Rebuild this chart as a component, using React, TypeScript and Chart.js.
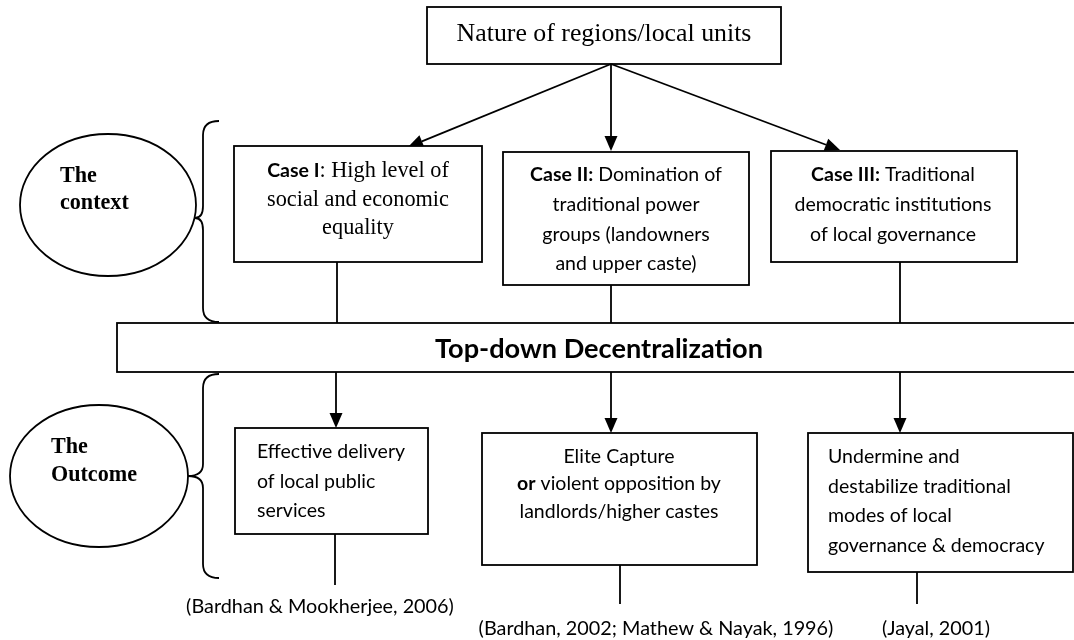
import React, { useEffect, useRef } from "react";
import { Chart, registerables } from "chart.js";
Chart.register(...registerables);

type Seg = { t: string; b?: boolean; f?: "serif" | "sans" };
type Line = Seg[];

// ---------- content (data) ----------
const sourceLabel = "Nature of regions/local units";
const contextLabel = ["The", "context"];
const outcomeLabel = ["The", "Outcome"];
const barLabel = "Top-down Decentralization";

const caseTexts: Line[][] = [
  [
    [{ t: "Case I", b: true, f: "sans" }, { t: ": High level of", f: "serif" }],
    [{ t: "social and economic", f: "serif" }],
    [{ t: "equality", f: "serif" }],
  ],
  [
    [{ t: "Case II:", b: true }, { t: " Domination of" }],
    [{ t: "traditional power" }],
    [{ t: "groups (landowners" }],
    [{ t: "and upper caste)" }],
  ],
  [
    [{ t: "Case III:", b: true }, { t: " Traditional" }],
    [{ t: "democratic institutions" }],
    [{ t: "of local governance" }],
  ],
];

const outcomeTexts: Line[][] = [
  [[{ t: "Effective delivery" }], [{ t: "of local public" }], [{ t: "services" }]],
  [
    [{ t: "Elite Capture" }],
    [{ t: "or", b: true }, { t: " violent opposition by" }],
    [{ t: "landlords/higher castes" }],
  ],
  [
    [{ t: "Undermine and" }],
    [{ t: "destabilize traditional" }],
    [{ t: "modes of local" }],
    [{ t: "governance & democracy" }],
  ],
];

const citations = [
  "(Bardhan & Mookherjee, 2006)",
  "(Bardhan, 2002; Mathew & Nayak, 1996)",
  "(Jayal, 2001)",
];

// ---------- layout (positions in a 1074 x 640 value space) ----------
const W = 1074;
const H = 640;
const topBox = { x0: 427, x1: 781, y0: 7, y1: 64, cy: 34 };
const arrowOrigin = { x: 611, y: 64 };
const caseArrowTips = [
  { x: 408, y: 147 },
  { x: 611, y: 151 },
  { x: 840, y: 150 },
];
const caseBoxes = [
  { x0: 234, x1: 482, y0: 146, y1: 262, align: "center", tx: 358, ys: [171, 200, 228], conn: 337 },
  { x0: 503, x1: 749, y0: 152, y1: 285, align: "center", tx: 626, ys: [175, 205, 235, 264], conn: 611 },
  { x0: 771, x1: 1017, y0: 151, y1: 262, align: "center", tx: 893, ys: [175, 205, 235], conn: 900 },
];
const bar = { x0: 117, x1: 1080, y0: 323, y1: 372, tx: 599, ty: 349 };
const outcomeBoxes = [
  { x0: 235, x1: 428, y0: 428, y1: 534, align: "left", tx: 257, ys: [452, 482, 511], arrowX: 336, connX: 335, connY: 585 },
  { x0: 482, x1: 757, y0: 433, y1: 565, align: "center", tx: 619, ys: [457, 484, 512], arrowX: 611, connX: 620, connY: 604 },
  { x0: 808, x1: 1073, y0: 433, y1: 572, align: "left", tx: 828, ys: [457, 487, 516, 546], arrowX: 900, connX: 917, connY: 604 },
];
const citationPos = [
  { x: 320, y: 607 },
  { x: 656, y: 629 },
  { x: 936, y: 629 },
];
const ellipses = [
  { cx: 108, cy: 205, rx: 88, ry: 71, tx: 60, ys: [176, 203] },
  { cx: 99, cy: 476, rx: 89, ry: 71, tx: 51, ys: [447, 475] },
];
const braces = [
  { end: 219, vx: 203, tip: 195, top: 121, mid: 218, bottom: 322 },
  { end: 219, vx: 203, tip: 188, top: 374, mid: 476, bottom: 578 },
];

const SERIF = "'Liberation Serif', 'DejaVu Serif', serif";
const SANS = "Lato, 'Noto Sans', sans-serif";

function fit(ctx: CanvasRenderingContext2D, weight: string, fam: string, text: string, target: number) {
  ctx.font = `${weight} 20px ${fam}`;
  const w = ctx.measureText(text).width;
  return (20 * target) / w;
}

const diagramPlugin = {
  id: "diagram",
  beforeDraw(chart: any) {
    const c = chart.ctx as CanvasRenderingContext2D;
    c.save();
    c.fillStyle = "#fff";
    c.fillRect(0, 0, chart.width, chart.height);
    c.restore();
  },
  afterDraw(chart: any) {
    const ctx = chart.ctx as CanvasRenderingContext2D;
    const X = (v: number) => chart.scales.x.getPixelForValue(v);
    const Y = (v: number) => chart.scales.y.getPixelForValue(v);

    const fsTop = fit(ctx, "normal", SERIF, sourceLabel, 295);
    const fsCaseSerif = fit(ctx, "normal", SERIF, "social and economic", 182);
    const fsSans = fit(ctx, "normal", SANS, "democratic institutions", 197);
    const fsBar = fit(ctx, "bold", SANS, barLabel, 328);
    const fsEll = fit(ctx, "bold", SERIF, "Outcome", 86);
    const fsCite = fit(ctx, "normal", SANS, citations[0], 268);

    ctx.save();
    ctx.strokeStyle = "#000";
    ctx.fillStyle = "#000";
    ctx.lineWidth = 1.8;
    ctx.lineJoin = "miter";

    const rect = (b: { x0: number; x1: number; y0: number; y1: number }) => {
      ctx.fillStyle = "#fff";
      ctx.fillRect(X(b.x0), Y(b.y0), X(b.x1) - X(b.x0), Y(b.y1) - Y(b.y0));
      ctx.strokeRect(X(b.x0), Y(b.y0), X(b.x1) - X(b.x0), Y(b.y1) - Y(b.y0));
      ctx.fillStyle = "#000";
    };
    const line = (x0: number, y0: number, x1: number, y1: number) => {
      ctx.beginPath();
      ctx.moveTo(X(x0), Y(y0));
      ctx.lineTo(X(x1), Y(y1));
      ctx.stroke();
    };
    const arrow = (x0: number, y0: number, x1: number, y1: number) => {
      const ang = Math.atan2(Y(y1) - Y(y0), X(x1) - X(x0));
      const len = 15;
      const hw = 6.5;
      const bx = X(x1) - len * Math.cos(ang);
      const by = Y(y1) - len * Math.sin(ang);
      ctx.beginPath();
      ctx.moveTo(X(x0), Y(y0));
      ctx.lineTo(bx, by);
      ctx.stroke();
      ctx.beginPath();
      ctx.moveTo(X(x1), Y(y1));
      ctx.lineTo(bx + hw * Math.sin(ang), by - hw * Math.cos(ang));
      ctx.lineTo(bx - hw * Math.sin(ang), by + hw * Math.cos(ang));
      ctx.closePath();
      ctx.fill();
    };
    const segFont = (s: Seg, defFam: "serif" | "sans") => {
      const fam = s.f || defFam;
      const size = fam === "serif" ? fsCaseSerif : fsSans;
      return `${s.b ? "bold" : "normal"} ${size}px ${fam === "serif" ? SERIF : SANS}`;
    };
    const drawLine = (ln: Line, x: number, y: number, align: string) => {
      ctx.textBaseline = "middle";
      ctx.textAlign = "left";
      let total = 0;
      for (const s of ln) {
        ctx.font = segFont(s, "sans");
        total += ctx.measureText(s.t).width;
      }
      let cx = align === "center" ? X(x) - total / 2 : X(x);
      for (const s of ln) {
        ctx.font = segFont(s, "sans");
        ctx.fillText(s.t, cx, Y(y));
        cx += ctx.measureText(s.t).width;
      }
    };

    // top box
    rect(topBox);
    ctx.font = `normal ${fsTop}px ${SERIF}`;
    ctx.textAlign = "center";
    ctx.textBaseline = "middle";
    ctx.fillText(sourceLabel, X((topBox.x0 + topBox.x1) / 2), Y(topBox.cy));

    // arrows to cases
    caseArrowTips.forEach((p) => arrow(arrowOrigin.x, arrowOrigin.y, p.x, p.y));

    // case boxes
    caseBoxes.forEach((b, i) => {
      line(b.conn, b.y1, b.conn, bar.y0);
      rect(b);
      caseTexts[i].forEach((ln, j) => drawLine(ln, b.tx, b.ys[j], b.align));
    });

    // decentralization bar
    rect(bar);
    ctx.font = `bold ${fsBar}px ${SANS}`;
    ctx.textAlign = "center";
    ctx.textBaseline = "middle";
    ctx.fillText(barLabel, X(bar.tx), Y(bar.ty));

    // outcomes
    outcomeBoxes.forEach((b, i) => {
      arrow(b.arrowX, bar.y1, b.arrowX, b.y0);
      line(b.connX, b.y1, b.connX, b.connY);
      rect(b);
      outcomeTexts[i].forEach((ln, j) => drawLine(ln, b.tx, b.ys[j], b.align));
    });

    // citations
    ctx.font = `normal ${fsCite}px ${SANS}`;
    ctx.textAlign = "center";
    ctx.textBaseline = "middle";
    citations.forEach((t, i) => ctx.fillText(t, X(citationPos[i].x), Y(citationPos[i].y)));

    // ellipses
    const labels = [contextLabel, outcomeLabel];
    ellipses.forEach((e, i) => {
      ctx.beginPath();
      ctx.ellipse(X(e.cx), Y(e.cy), X(e.cx + e.rx) - X(e.cx), Y(e.cy + e.ry) - Y(e.cy), 0, 0, Math.PI * 2);
      ctx.stroke();
      ctx.font = `bold ${fsEll}px ${SERIF}`;
      ctx.textAlign = "left";
      ctx.textBaseline = "middle";
      labels[i].forEach((t, j) => ctx.fillText(t, X(e.tx), Y(e.ys[j])));
    });

    // braces
    braces.forEach((b) => {
      const r = 14;
      const r2 = 12;
      ctx.beginPath();
      ctx.moveTo(X(b.end), Y(b.top));
      ctx.quadraticCurveTo(X(b.vx), Y(b.top), X(b.vx), Y(b.top + r));
      ctx.lineTo(X(b.vx), Y(b.mid - r2));
      ctx.quadraticCurveTo(X(b.vx), Y(b.mid), X(b.tip), Y(b.mid));
      ctx.quadraticCurveTo(X(b.vx), Y(b.mid), X(b.vx), Y(b.mid + r2));
      ctx.lineTo(X(b.vx), Y(b.bottom - r));
      ctx.quadraticCurveTo(X(b.vx), Y(b.bottom), X(b.end), Y(b.bottom));
      ctx.stroke();
    });

    ctx.restore();
  },
};

export default function App() {
  const ref = useRef<HTMLCanvasElement | null>(null);
  useEffect(() => {
    document.body.style.margin = "0";
    const canvas = ref.current;
    if (!canvas) return;
    const chart = new Chart(canvas, {
      type: "scatter",
      data: { datasets: [{ data: [], pointRadius: 0 }] },
      options: {
        animation: false,
        responsive: false,
        maintainAspectRatio: false,
        layout: { padding: 0 },
        events: [],
        plugins: { legend: { display: false }, tooltip: { enabled: false }, title: { display: false } },
        scales: {
          x: { type: "linear", min: 0, max: W, display: false },
          y: { type: "linear", min: 0, max: H, reverse: true, display: false },
        },
      },
      plugins: [diagramPlugin],
    });
    return () => chart.destroy();
  }, []);
  return (
    <div style={{ width: W, height: H }}>
      <canvas ref={ref} width={W} height={H} style={{ display: "block" }} />
    </div>
  );
}
